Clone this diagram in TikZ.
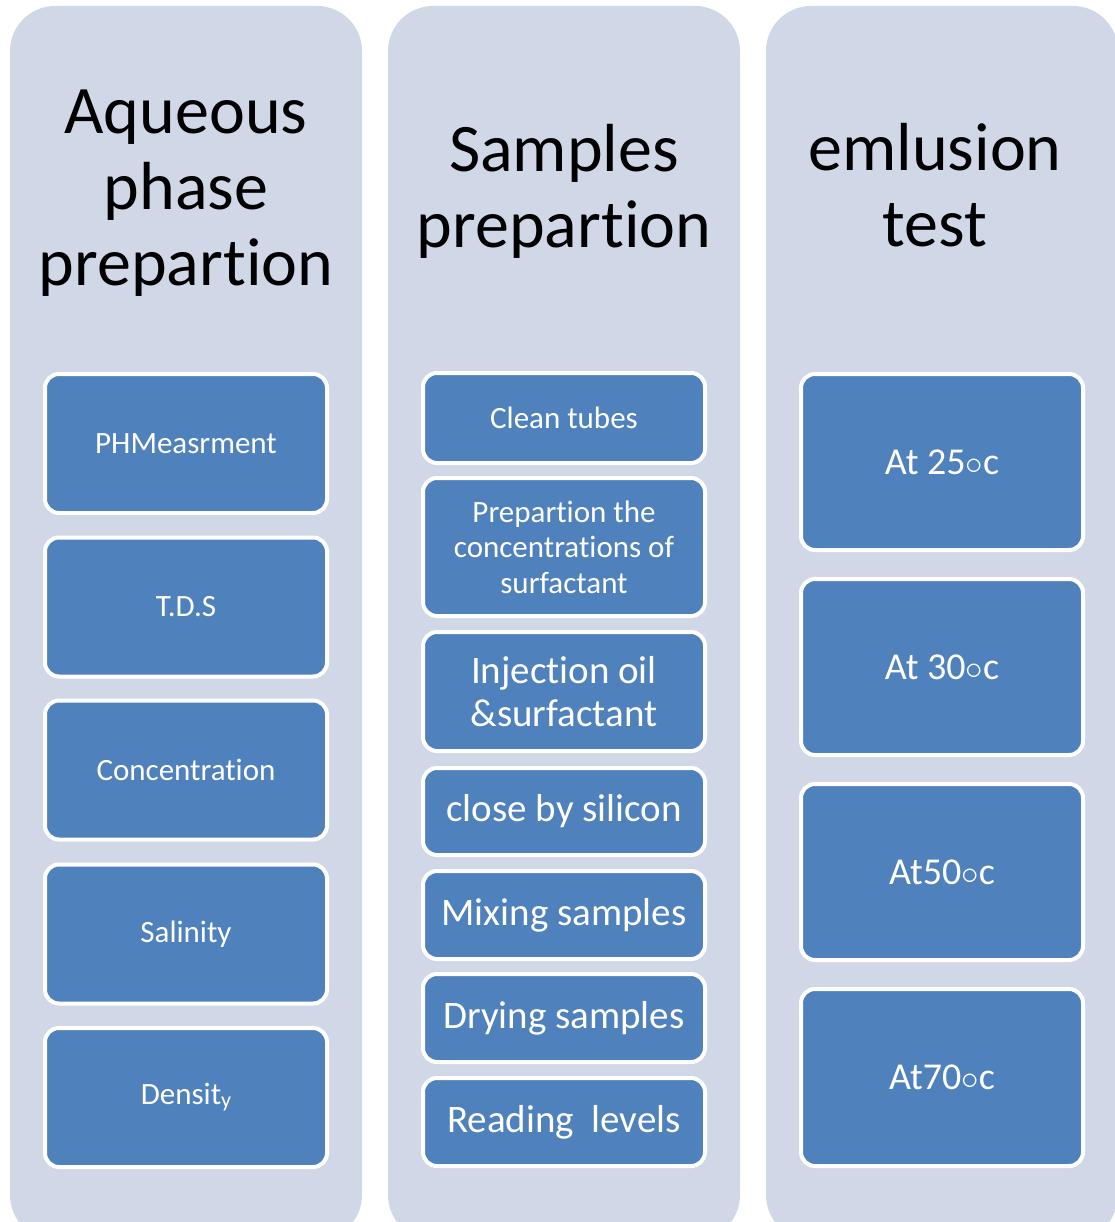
\documentclass[tikz,border=0pt]{standalone}
\usepackage{fontspec}
\setmainfont{Carlito}[RawFeature={-liga;-clig;-calt;-dlig}]
\definecolor{colfill}{HTML}{D0D8E8}
\definecolor{itemfill}{HTML}{4F81BD}
\newcommand{\degc}{\raisebox{0pt}{\scalebox{1.4}{$\circ$}}c}
\newcommand{\tii}{t\kern0pt i}
\tikzset{
    column/.style={fill=colfill, rounded corners=45pt, minimum width=352pt, minimum height=1234pt, inner sep=0pt},
    item/.style={fill=itemfill, draw=white, line width=4pt, rounded corners=14pt, text=white, minimum width=282pt, inner sep=0pt, align=center},
    title/.style={font=\fontsize{68}{76}\selectfont, align=center},
    small/.style={font=\fontsize{31}{36}\selectfont},
    big/.style={font=\fontsize{39}{43}\selectfont},
    temp/.style={font=\fontsize{38}{43}\selectfont}
}
\begin{document}
\begin{tikzpicture}[x=1pt,y=-1pt]
    \useasboundingbox (0,0) rectangle (1115,1222);
    \clip (0,0) rectangle (1115,1222);
    \node[column] (C0) at (186,623) {};
    \node[column] (C1) at (564,623) {};
    \node[column] (C2) at (942,623) {};
    \node[title] (T0) at (186,193) {Aqueous\\phase\\prepar\tii on};
    \node[title] (T1) at (564,191) {Samples\\prepar\tii on};
    \node[title] (T2) at (935,185) {emlusion\\test};
    \node[item,small,minimum height=139pt] (A0) at (186,443.5) {PHMeasrment};
    \node[item,small,minimum height=139pt] (A1) at (186,607) {T.D.S};
    \node[item,small,minimum height=139pt] (A2) at (186,770) {Concentra\tii on};
    \node[item,small,minimum height=139pt] (A3) at (186,934) {Salinity};
    \node[item,small,minimum height=139pt] (A4) at (186,1097.5) {Densit\raisebox{-3pt}{\fontsize{22}{22}\selectfont y}};
    \node[item,small,minimum height=90pt] (B0) at (564,418) {Clean tubes};
    \node[item,font=\fontsize{31}{35.5}\selectfont,minimum height=138pt] (B1) at (564,547) {Prepar\tii on the\\concentra\tii ons of\\surfactant};
    \node[item,big,minimum height=119pt] (B2) at (564,691.5) {Injec\tii on oil\\\&surfactant};
    \node[item,big,minimum height=87pt] (B3) at (564,811.5) {close by silicon};
    \node[item,big,minimum height=88pt] (B4) at (564,915) {Mixing samples};
    \node[item,big,minimum height=88pt] (B5) at (564,1018) {Drying samples};
    \node[item,big,minimum height=88pt] (B6) at (564,1122) {Reading\ \ levels};
    \node[item,temp,minimum height=176pt] (D0) at (942,462) {At 25\degc};
    \node[item,temp,minimum height=176pt] (D1) at (942,667) {At 30\degc};
    \node[item,temp,minimum height=176pt] (D2) at (942,872) {At50\degc};
    \node[item,temp,minimum height=177pt] (D3) at (942,1077.5) {At70\degc};
\end{tikzpicture}
\end{document}
